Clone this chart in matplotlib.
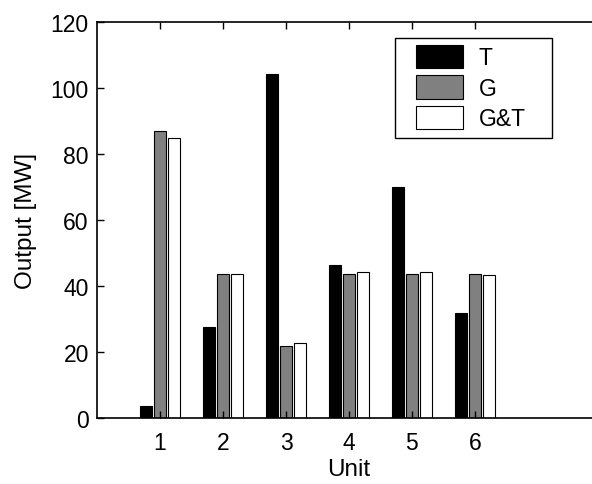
import numpy as np
import matplotlib.pyplot as plt
from matplotlib.patches import Rectangle
from matplotlib.container import BarContainer
from matplotlib.legend_handler import HandlerPatch, update_from_first_child

plt.rcParams['font.family'] = ['Liberation Sans', 'DejaVu Sans']

# Output per unit for each case
units = [1, 2, 3, 4, 5, 6]
t_vals = [3.5, 27.5, 104.2, 46.4, 70.0, 31.9]
g_vals = [87.1, 43.6, 21.8, 43.6, 43.6, 43.6]
gt_vals = [85.0, 43.6, 22.9, 44.2, 44.2, 43.5]
labels = ['T', 'G', 'G&T']
colors = ['black', '#808080', 'white']

fig = plt.figure(figsize=(5.92, 4.85), dpi=100)
ax = fig.add_axes([0.164, 0.136, 0.851, 0.816])

x = np.array(units)
width = 0.19
offsets = [-0.222, 0, 0.222]
for vals, off, c, lab in zip([t_vals, g_vals, gt_vals], offsets, colors, labels):
    ax.bar(x + off, vals, width, color=c, edgecolor='black', linewidth=0.8, label=lab)

ax.set_xlim(0, 8)
ax.set_ylim(0, 120)
ax.set_xticks(units)
ax.set_yticks(range(0, 121, 20))
ax.tick_params(axis='both', direction='in', top=True, right=False, labelsize=16.5, length=5, width=1)
ax.tick_params(axis='y', pad=6)
ax.tick_params(axis='x', pad=9)
ax.spines['right'].set_visible(False)
for s in ['left', 'bottom', 'top']:
    ax.spines[s].set_linewidth(1.2)

ax.set_xlabel('Unit', fontsize=17.5, labelpad=3)
ax.set_ylabel('Output [MW]', fontsize=17.5, labelpad=10)


# legend swatch shifted right a bit, like the original
def swatch(legend, orig_handle, xdescent, ydescent, width, height, fontsize):
    shift = 9
    return Rectangle((-xdescent + shift, -ydescent - 1), width - shift, height + 2)


leg = ax.legend(loc='upper left', bbox_to_anchor=(395 / 592, 0.0, 157 / 592, 1 - 39 / 485),
                bbox_transform=fig.transFigure, mode='expand',
                fontsize=16.5, fancybox=False, edgecolor='black', framealpha=1,
                handlelength=2.6, handleheight=1.0, handletextpad=0.7, labelspacing=0.33,
                borderpad=0.35, borderaxespad=0,
                handler_map={BarContainer: HandlerPatch(patch_func=swatch,
                                                        update_func=update_from_first_child)})
leg.get_frame().set_linewidth(1.0)

fig.savefig('out.png', dpi=100)
